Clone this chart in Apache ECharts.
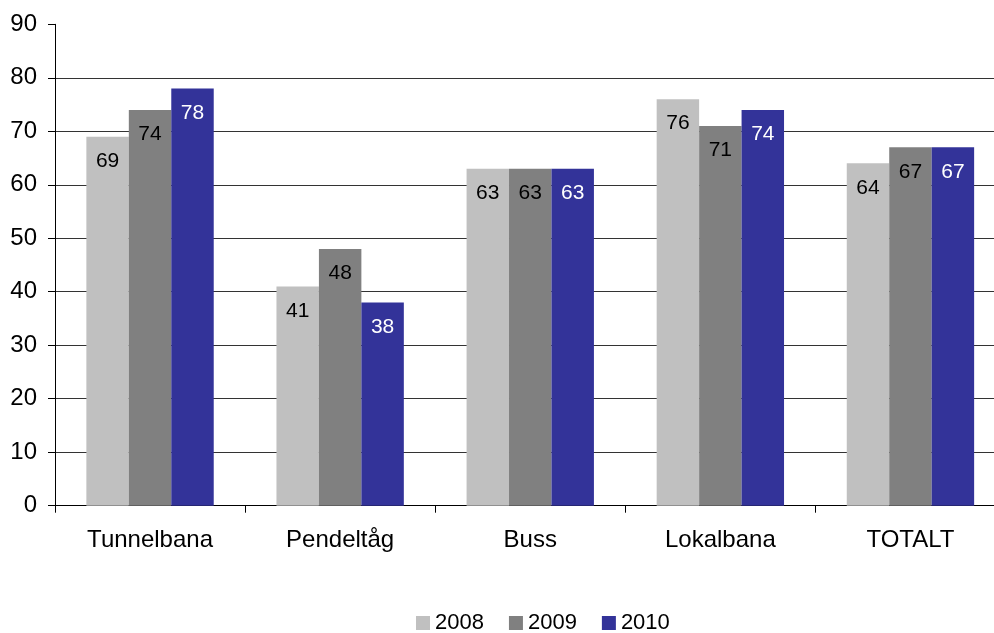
<!DOCTYPE html>
<html>
<head>
<meta charset="utf-8">
<script src="https://cdn.jsdelivr.net/npm/echarts@6/dist/echarts.min.js"></script>
<style>
  html, body { margin: 0; padding: 0; background: #fff; }
  #chart { width: 994px; height: 633px; }
</style>
</head>
<body>
<div id="chart"></div>
<script>
// Travel mode categories and yearly values
const categories = ['Tunnelbana', 'Pendeltåg', 'Buss', 'Lokalbana', 'TOTALT'];
const years = ['2008', '2009', '2010'];
const values2008 = [69, 41, 63, 76, 64];
const values2009 = [74, 48, 63, 71, 67];
const values2010 = [78, 38, 63, 74, 67];
const yTicks = [0, 10, 20, 30, 40, 50, 60, 70, 80, 90];

const FONT = '"Liberation Sans", Arial, sans-serif';
const colors = ['#C0C0C0', '#808080', '#333399'];
const labelColors = ['#000', '#000', '#fff'];
const seriesValues = [values2008, values2009, values2010];

const chart = echarts.init(document.getElementById('chart'));

// Grid lines for every tick except the top one
const gridColors = yTicks.map((t, i) => (i === yTicks.length - 1 ? 'rgba(0,0,0,0)' : '#333'));

chart.setOption({
  animation: false,
  backgroundColor: '#fff',
  textStyle: { fontFamily: FONT },
  // plot area runs past the right edge of the canvas
  grid: {
    left: 55, top: 24.3, width: 950.5, height: 481.4,
    containLabel: false, outerBoundsMode: 'none'
  },
  legend: {
    top: 612,
    left: 416,
    icon: 'rect',
    itemWidth: 14,
    itemHeight: 14,
    itemGap: 25,
    padding: 0,
    textStyle: { fontSize: 22, color: '#000', fontFamily: FONT },
    data: years
  },
  xAxis: {
    type: 'category',
    data: categories,
    axisLine: { lineStyle: { color: '#000', width: 1 } },
    axisTick: { show: true, length: 7, lineStyle: { color: '#000' } },
    axisLabel: { fontSize: 24, color: '#000', margin: 23, fontFamily: FONT },
    splitLine: { show: false }
  },
  yAxis: {
    type: 'value',
    min: yTicks[0],
    max: yTicks[yTicks.length - 1],
    interval: 10,
    axisLine: { show: true, lineStyle: { color: '#000', width: 1 } },
    axisTick: { show: true, length: 7, lineStyle: { color: '#000' } },
    axisLabel: { fontSize: 24, color: '#000', margin: 18, fontFamily: FONT },
    splitLine: { show: true, lineStyle: { color: gridColors, width: 1 } }
  },
  series: years.map((y, i) => ({
    name: y,
    type: 'bar',
    data: seriesValues[i],
    barGap: '0%',
    barCategoryGap: '33%',
    itemStyle: { color: colors[i] },
    label: {
      show: true,
      position: 'insideTop',
      distance: 14,
      fontSize: 21,
      color: labelColors[i],
      fontFamily: FONT
    }
  }))
});
</script>
</body>
</html>
